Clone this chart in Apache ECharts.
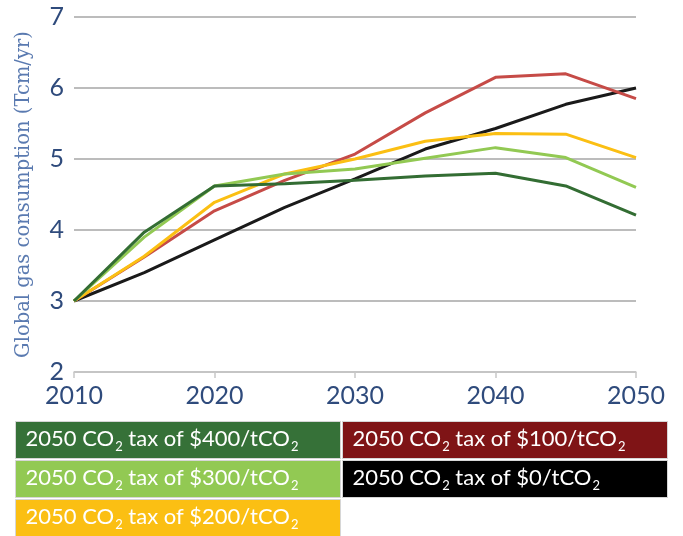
<!DOCTYPE html>
<html><head><meta charset="utf-8">
<script src="https://cdn.jsdelivr.net/npm/echarts@6/dist/echarts.min.js"></script>
<style>html,body{margin:0;padding:0;background:#fff}#c{width:683px;height:536px}</style>
</head><body><div id="c"></div>
<script>
const years = [2010, 2015, 2020, 2025, 2030, 2035, 2040, 2045, 2050];
const tax400 = [3.0, 3.97, 4.62, 4.65, 4.70, 4.76, 4.80, 4.62, 4.21];
const tax300 = [3.0, 3.90, 4.62, 4.79, 4.86, 5.01, 5.16, 5.02, 4.60];
const tax200 = [3.0, 3.63, 4.39, 4.79, 5.00, 5.25, 5.36, 5.35, 5.02];
const tax100 = [3.0, 3.62, 4.27, 4.70, 5.07, 5.65, 6.15, 6.20, 5.85];
const tax0   = [3.0, 3.40, 3.86, 4.32, 4.72, 5.14, 5.43, 5.77, 6.00];
const seriesNames = ['$400', '$300', '$200', '$100', '$0'];
const yTicks = [2, 3, 4, 5, 6, 7];
const xTicks = [2010, 2020, 2030, 2040, 2050];

const lineColors = ['#336d33', '#92c953', '#fbbf13', '#c64b47', '#1a1a1a'];
const boxColors = ['#367138', '#92c953', '#fbbf13', '#7f1416', '#000000'];
const dataSets = [tax400, tax300, tax200, tax100, tax0];

const chart = echarts.init(document.getElementById('c'));
const series = dataSets.map((d, i) => ({
  name: seriesNames[i], type: 'line', symbol: 'none',
  data: years.map((y, k) => [y, d[k]]),
  lineStyle: { color: lineColors[i], width: 3 },
  z: 10 - i
}));
series[3].z = 3; series[4].z = 2;

const legendFont = 'Lato';
const boxOrder = [[0, 0], [3, 1], [1, 0], [4, 1], [2, 0]];
const boxW = [325, 325];
const boxX = [15, 342];
const rowY = [421, 460, 499];
const graphic = [];
boxOrder.forEach((p, idx) => {
  const si = p[0], col = p[1], row = Math.floor(idx / 2);
  graphic.push({
    type: 'group', left: boxX[col], top: rowY[row],
    children: [
      { type: 'rect', shape: { x: 0, y: 0, width: boxW[col], height: 37 },
        style: { fill: boxColors[si], stroke: '#d6d6d6', lineWidth: 1 } },
      { type: 'text', x: 10, y: 17,
        style: {
          text: '2050 CO{s|2} tax of ' + seriesNames[si] + '/tCO{s|2}',
          fill: '#fff', fontSize: 22, fontFamily: legendFont, verticalAlign: 'middle',
          rich: { s: { fontSize: 13, fill: '#fff', padding: [17, 0, 0, 1], fontFamily: legendFont } }
        } }
    ]
  });
});

chart.setOption({
  animation: false,
  grid: { left: 74, right: 47, top: 17, bottom: 164 },
  xAxis: {
    type: 'value', min: 2010, max: 2050, interval: 10,
    axisLine: { show: true, lineStyle: { color: '#c8c8c8', width: 1.5 } },
    axisTick: { show: true, length: 6, lineStyle: { color: '#c8c8c8', width: 1.5 } },
    splitLine: { show: false },
    axisLabel: { color: '#2f4b7c', fontSize: 25, fontFamily: 'Lato', margin: 11,
      formatter: v => String(v) }
  },
  yAxis: {
    type: 'value', min: 2, max: 7, interval: 1,
    name: 'Global gas consumption (Tcm/yr)', nameLocation: 'middle', nameGap: 40,
    nameTextStyle: { color: '#5a7ab0', fontSize: 19.5, fontFamily: 'DejaVu Serif' },
    axisLine: { show: false }, axisTick: { show: false },
    splitLine: { lineStyle: { color: '#a6a6a6', width: 1.5 } },
    axisLabel: { color: '#2f4b7c', fontSize: 25, fontFamily: 'Lato', margin: 10 }
  },
  series: series,
  graphic: graphic
});
</script></body></html>
